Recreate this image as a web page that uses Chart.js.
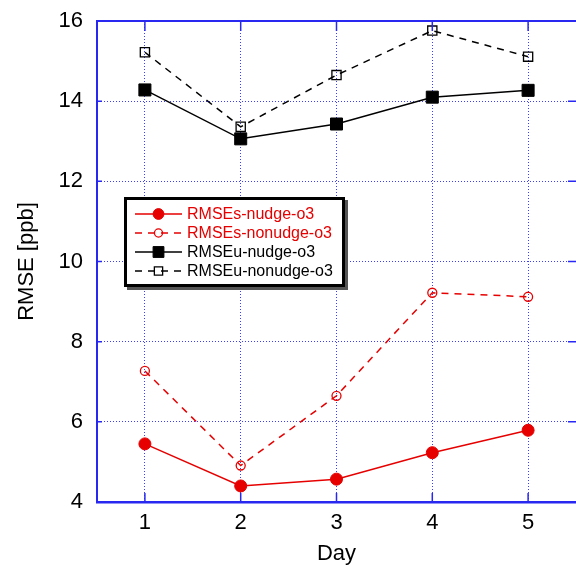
<!DOCTYPE html>
<html>
<head>
<meta charset="utf-8">
<script src="https://cdn.jsdelivr.net/npm/chart.js@4"></script>
<style>
  html, body { margin: 0; padding: 0; background: #fff; }
  canvas { display: block; }
</style>
</head>
<body>
<canvas id="grafico" width="576" height="567"></canvas>
<script>
var days = [1, 2, 3, 4, 5];
var sNudge = [5.45, 4.40, 4.57, 5.23, 5.79];
var sNonudge = [7.27, 4.91, 6.65, 9.22, 9.12];
var uNudge = [14.28, 13.06, 13.43, 14.10, 14.27];
var uNonudge = [15.22, 13.36, 14.65, 15.76, 15.11];
var yTicks = [4, 6, 8, 10, 12, 14, 16];
var seriesNames = ['RMSEs-nudge-o3', 'RMSEs-nonudge-o3', 'RMSEu-nudge-o3', 'RMSEu-nonudge-o3'];

var RED = '#e60000';
var BLUE = '#2828f0';
var GRID = '#3c3cff';
var FONT = 'Liberation Sans, Arial, Helvetica, sans-serif';

function puntos(vals) {
    return days.map(function (d, i) { return { x: d, y: vals[i] }; });
}

// marco: linea superior, ticks hacia dentro
var marco = {
    id: 'marco',
    afterDatasetsDraw: function (chart) {
        var ctx = chart.ctx, a = chart.chartArea;
        var xs = chart.scales.x, ys = chart.scales.y;
        ctx.save();
        ctx.strokeStyle = BLUE;
        ctx.lineWidth = 2;
        ctx.beginPath();
        ctx.moveTo(a.left, a.top);
        ctx.lineTo(a.right, a.top);
        ctx.stroke();
        ctx.lineWidth = 1.5;
        ctx.beginPath();
        days.forEach(function (d) {
            var px = xs.getPixelForValue(d);
            ctx.moveTo(px, a.bottom); ctx.lineTo(px, a.bottom - 9);
            ctx.moveTo(px, a.top); ctx.lineTo(px, a.top + 10);
        });
        yTicks.forEach(function (v) {
            var py = ys.getPixelForValue(v);
            ctx.moveTo(a.left, py); ctx.lineTo(a.left + 5, py);
            ctx.moveTo(a.right, py); ctx.lineTo(a.right - 8, py);
        });
        ctx.stroke();
        ctx.restore();
    }
};

// leyenda con recuadro dentro del grafico
var leyenda = {
    id: 'leyenda',
    afterDraw: function (chart) {
        var ctx = chart.ctx;
        var bx = 124, by = 197, bw = 221, bh = 90;
        ctx.save();
        ctx.fillStyle = '#555';
        ctx.fillRect(bx + 3, by + 3, bw, bh);
        ctx.fillStyle = '#fff';
        ctx.fillRect(bx, by, bw, bh);
        ctx.strokeStyle = '#000';
        ctx.lineWidth = 3;
        ctx.strokeRect(bx + 1.5, by + 1.5, bw - 3, bh - 3);
        chart.data.datasets.forEach(function (ds, i) {
            var y = 214 + i * 19;
            ctx.strokeStyle = ds.borderColor;
            ctx.lineWidth = 1.5;
            ctx.setLineDash(ds.borderDash || []);
            ctx.beginPath();
            ctx.moveTo(135, y);
            ctx.lineTo(182, y);
            ctx.stroke();
            ctx.setLineDash([]);
            ctx.fillStyle = ds.pointBackgroundColor;
            ctx.strokeStyle = ds.pointBorderColor;
            ctx.lineWidth = ds.pointBorderWidth;
            Chart.helpers.drawPoint(ctx, {
                pointStyle: ds.pointStyle,
                radius: ds.pointRadius * 0.9,
                rotation: 0,
                borderWidth: ds.pointBorderWidth
            }, 158.5, y);
            ctx.fillStyle = ds.borderColor;
            ctx.font = '16px ' + FONT;
            ctx.textBaseline = 'middle';
            ctx.textAlign = 'left';
            ctx.fillText(ds.label, 187, y + 1);
        });
        ctx.restore();
    }
};

var ctx = document.getElementById('grafico').getContext('2d');
var chart = new Chart(ctx, {
    type: 'line',
    data: {
        datasets: [{
            label: seriesNames[0],
            data: puntos(sNudge),
            borderColor: RED,
            borderWidth: 1.5,
            pointStyle: 'circle',
            pointRadius: 6,
            pointBackgroundColor: RED,
            pointBorderColor: RED,
            pointBorderWidth: 1
        }, {
            label: seriesNames[1],
            data: puntos(sNonudge),
            borderColor: RED,
            borderWidth: 1.5,
            borderDash: [7, 6],
            pointStyle: 'circle',
            pointRadius: 4.5,
            pointBackgroundColor: 'rgba(0,0,0,0)',
            pointBorderColor: RED,
            pointBorderWidth: 1.3
        }, {
            label: seriesNames[2],
            data: puntos(uNudge),
            borderColor: '#000',
            borderWidth: 1.5,
            pointStyle: 'rect',
            pointRadius: 8.5,
            pointBackgroundColor: '#000',
            pointBorderColor: '#000',
            pointBorderWidth: 1
        }, {
            label: seriesNames[3],
            data: puntos(uNonudge),
            borderColor: '#000',
            borderWidth: 1.5,
            borderDash: [7, 6],
            pointStyle: 'rect',
            pointRadius: 6.5,
            pointBackgroundColor: 'rgba(0,0,0,0)',
            pointBorderColor: '#000',
            pointBorderWidth: 1.3
        }]
    },
    options: {
        responsive: false,
        animation: false,
        devicePixelRatio: 1,
        layout: { autoPadding: false, padding: { top: 21, right: 0, left: 0, bottom: 0 } },
        scales: {
            x: {
                type: 'linear',
                min: 0.5,
                max: 5.5,
                afterBuildTicks: function (scale) {
                    scale.ticks = days.map(function (d) { return { value: d }; });
                },
                afterFit: function (scale) {
                    scale.height = 65;
                    scale.paddingLeft = 0;
                    scale.paddingRight = 0;
                },
                title: {
                    display: true,
                    text: 'Day',
                    color: '#000',
                    font: { family: FONT, size: 22 },
                    padding: { top: 0, bottom: 0 }
                },
                ticks: {
                    color: '#000',
                    padding: 8,
                    font: { family: FONT, size: 22 }
                },
                grid: {
                    color: GRID,
                    lineWidth: 1,
                    drawTicks: false
                },
                border: { color: BLUE, width: 2.5, dash: [1, 2] }
            },
            y: {
                min: 4,
                max: 16,
                afterBuildTicks: function (scale) {
                    scale.ticks = yTicks.map(function (v) { return { value: v }; });
                },
                afterFit: function (scale) {
                    scale.width = 97;
                    scale.paddingTop = 0;
                    scale.paddingBottom = 0;
                },
                title: {
                    display: true,
                    text: 'RMSE [ppb]',
                    color: '#000',
                    font: { family: FONT, size: 22 },
                    padding: { top: 14, bottom: 0 }
                },
                ticks: {
                    color: '#000',
                    padding: 14,
                    font: { family: FONT, size: 22 }
                },
                grid: {
                    color: GRID,
                    lineWidth: 1,
                    drawTicks: false
                },
                border: { color: BLUE, width: 2, dash: [1, 2] }
            }
        },
        plugins: {
            legend: { display: false },
            tooltip: { enabled: false }
        }
    },
    plugins: [marco, leyenda]
});
</script>
</body>
</html>
